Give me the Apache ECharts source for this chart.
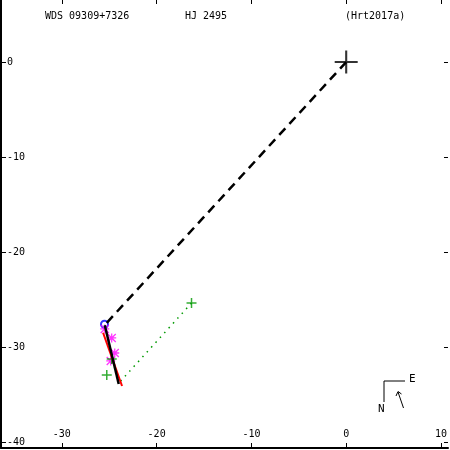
<!DOCTYPE html>
<html><head><meta charset="utf-8">
<script src="https://cdn.jsdelivr.net/npm/echarts@6/dist/echarts.min.js"></script>
<style>html,body{margin:0;padding:0;background:#fff}#c{width:450px;height:450px}</style>
</head><body><div id="c"></div>
<script>
// Data (arcsec offsets: x = East-ish axis, y = North-ish axis)
const xTicks = [-30, -20, -10, 0, 10];
const yTicks = [0, -10, -20, -30, -40];
const primary = [[0, 0]];
const nodeLine = [[0, 0], [-25.4, -27.6]];
const orbitBlack = [[-25.47, -27.7], [-24.0, -33.9]];
const orbitRed = [[-25.65, -28.5], [-23.65, -34.1]];
const periastron = [[-25.5, -27.6]];
const magentaPts = [[-25.47, -28.1], [-24.74, -29.05], [-24.42, -30.63], [-24.84, -31.47]];
const greenPts = [[-16.32, -25.37], [-24.74, -31.26], [-25.26, -32.95]];
const greenDotted = [[-16.32, -25.37], [-23.79, -33.58]];
const titles = ['WDS 09309+7326', 'HJ 2495', '(Hrt2017a)'];

const font = 'DejaVu Sans Mono';
const chart = echarts.init(document.getElementById('c'));
const plusPath = 'path://M10,0h2v22h-2z M0,10h22v2h-22z';
const smallPlus = 'path://M4,0h1.4v9.4h-1.4z M0,4h9.4v1.4h-9.4z';
const asterisk = 'path://M4.3,0h1.4v10h-1.4z M0,4.3h10v1.4h-10z M1,0l9,9l-1,1l-9,-9z M9,0l1,1l-9,9l-1,-1z';
const xmin = -36.42, xmax = 10.74, ymin = -40.63, ymax = 6.53;
chart.setOption({
  animation: false,
  backgroundColor: '#fff',
  grid: { left: 1, right: 1, top: 0, bottom: 2 },
  xAxis: [
    { type: 'value', position: 'bottom', min: xmin, max: xmax,
      axisLine: { show: true, onZero: false, lineStyle: { color: '#000', width: 2 } },
      axisTick: { show: true, inside: true, length: 5, customValues: xTicks, lineStyle: { color: '#000' } },
      axisLabel: { show: true, inside: true, customValues: xTicks, color: '#000', fontFamily: font, fontSize: 10, margin: 9 },
      splitLine: { show: false } },
    { type: 'value', position: 'top', min: xmin, max: xmax,
      axisLine: { show: false, onZero: false },
      axisTick: { show: true, inside: true, length: 4, customValues: xTicks, lineStyle: { color: '#000' } },
      axisLabel: { show: false }, splitLine: { show: false } }
  ],
  yAxis: [
    { type: 'value', position: 'left', min: ymin, max: ymax,
      axisLine: { show: true, onZero: false, lineStyle: { color: '#000', width: 2 } },
      axisTick: { show: true, inside: true, length: 5, customValues: yTicks, lineStyle: { color: '#000' } },
      axisLabel: { show: true, inside: true, customValues: yTicks, color: '#000', fontFamily: font, fontSize: 10, margin: 6 },
      splitLine: { show: false } },
    { type: 'value', position: 'right', min: ymin, max: ymax,
      axisLine: { show: false, onZero: false },
      axisTick: { show: true, inside: true, length: 4, customValues: yTicks, lineStyle: { color: '#000' } },
      axisLabel: { show: false }, splitLine: { show: false } }
  ],
  series: [
    { type: 'line', data: nodeLine, symbol: 'none', lineStyle: { color: '#000', width: 2.5, type: [9, 6] } },
    { type: 'line', data: greenDotted, symbol: 'none', lineStyle: { color: '#009900', width: 1.5, type: [1.5, 5] } },
    { type: 'line', data: orbitRed, symbol: 'none', lineStyle: { color: '#ff0000', width: 2 } },
    { type: 'line', data: orbitBlack, symbol: 'none', lineStyle: { color: '#000', width: 2.5 } },
    { type: 'scatter', data: periastron, symbol: 'circle', symbolSize: 7, itemStyle: { color: 'rgba(0,0,0,0)', borderColor: '#0000ff', borderWidth: 2 } },
    { type: 'scatter', data: magentaPts, symbol: asterisk, symbolSize: 9, itemStyle: { color: '#ff00ff' } },
    { type: 'scatter', data: greenPts, symbol: smallPlus, symbolSize: 10, itemStyle: { color: '#009900' } },
    { type: 'scatter', data: primary, symbol: plusPath, symbolSize: 23, itemStyle: { color: '#000' } }
  ],
  graphic: [
    { type: 'text', left: 45, top: 11, style: { text: titles[0], fontFamily: font, fontSize: 10, fill: '#000' } },
    { type: 'text', left: 185, top: 11, style: { text: titles[1], fontFamily: font, fontSize: 10, fill: '#000' } },
    { type: 'text', left: 345, top: 11, style: { text: titles[2], fontFamily: font, fontSize: 10, fill: '#000' } },
    { type: 'polyline', shape: { points: [[405, 381], [384, 381], [384, 402]] }, style: { stroke: '#000', lineWidth: 1, fill: null } },
    { type: 'text', x: 409, y: 374, style: { text: 'E', fontFamily: font, fontSize: 11, fill: '#000' } },
    { type: 'text', x: 378, y: 404, style: { text: 'N', fontFamily: font, fontSize: 11, fill: '#000' } },
    { type: 'polyline', shape: { points: [[403.5, 408], [398, 392]] }, style: { stroke: '#000', lineWidth: 1, fill: null } },
    { type: 'polyline', shape: { points: [[396, 396], [398, 391.5], [401.5, 394]] }, style: { stroke: '#000', lineWidth: 1, fill: null } }
  ]
});
</script></body></html>
